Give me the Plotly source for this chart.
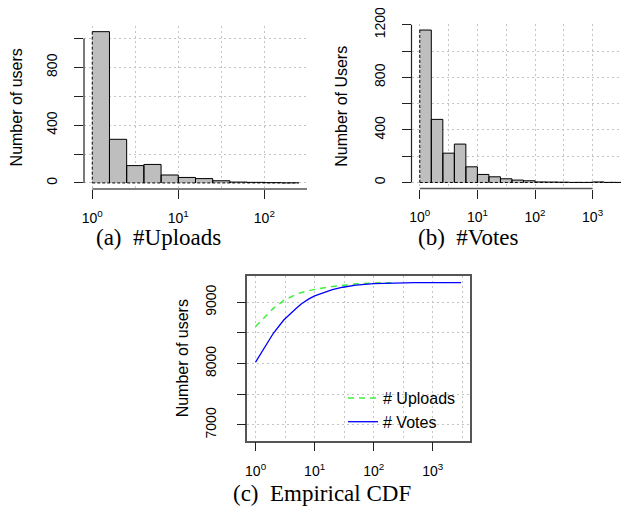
import math
import plotly.graph_objects as go

# ---------------- data ----------------
# histogram bins are 0.2 decades wide, starting at 10^0
bin_step_log = 0.2
uploads_counts = [1047, 302, 120, 128, 55, 38, 30, 15, 6, 4, 2, 1]
votes_counts = [1160, 480, 223, 292, 119, 61, 43, 28, 18, 13, 4, 3, 2, 1, 1, 4, 1, 1]

hist_a_yticks = [0, 200, 400, 600, 800, 1000]
hist_a_ylabels = ["0", "", "400", "", "800", ""]
hist_b_yticks = [0, 200, 400, 600, 800, 1000, 1200]
hist_b_ylabels = ["0", "", "400", "", "800", "", "1200"]

cdf_upload_x = [1, 2, 3, 4, 5, 6, 7, 8, 9, 10, 20, 30, 50, 100, 200]
cdf_upload_y = [8604, 8900, 9030, 9095, 9135, 9160, 9178, 9192, 9202, 9210, 9258, 9280, 9300, 9315, 9320]
cdf_votes_x = [1, 2, 3, 4, 5, 6, 7, 8, 10, 15, 20, 30, 50, 100, 200, 500, 1000, 3000]
cdf_votes_y = [8025, 8495, 8710, 8830, 8910, 8975, 9020, 9055, 9105, 9170, 9205, 9245, 9280, 9305, 9315, 9319, 9320, 9320]
cdf_yticks = [7000, 7500, 8000, 8500, 9000]
cdf_ylabels = ["7000", "", "8000", "", "9000"]

xt_a = [1, 10, 100]
xt_b = [1, 10, 100, 1000]
xt_c = [1, 10, 100, 1000]

captions = ["(a)  #Uploads", "(b)  #Votes", "(c)  Empirical CDF"]

# ---------------- layout helpers ----------------
PAGE_W, PAGE_H = 629, 512
OFF = 8  # browser body margin
W, H = PAGE_W - OFF, PAGE_H - OFF
SANS = "Liberation Sans, Arial, Helvetica, sans-serif"
SERIF = "Liberation Serif, Times New Roman, serif"
GRID = "#c4c4c4"
GRIDDASH = "2px,3px"


def fx(px):
    return (px - OFF) / W


def fy(py):
    return 1 - (py - OFF) / H


def sup_label(v):
    return "10<sup>%d</sup>" % round(math.log10(v))


def half_decades(lo, hi):
    out = []
    k = lo
    while k <= hi + 1e-9:
        out.append(10 ** k)
        k += 0.5
    return out


def bar_edges(i):
    return 10 ** (bin_step_log * i), 10 ** (bin_step_log * (i + 1))


def hist_fill(counts):
    xs, ys = [], []
    for i, c in enumerate(counts):
        lo, hi = bar_edges(i)
        xs += [lo, lo, hi, hi, lo, None]
        ys += [0, c, c, 0, 0, None]
    return xs, ys


def hist_outline(counts):
    xs, ys = [], []
    for i, c in enumerate(counts):
        lo, hi = bar_edges(i)
        if i == 0:
            xs += [lo, hi, hi, None]
            ys += [c, c, 0, None]
        else:
            xs += [lo, lo, hi, hi, None]
            ys += [0, c, c, 0, None]
    return xs, ys


fig = go.Figure()


def add_hist(counts, xa, ya):
    fx_, fy_ = hist_fill(counts)
    fig.add_trace(go.Scatter(x=fx_, y=fy_, mode="lines", fill="toself", fillcolor="#bebebe",
                             line=dict(color="rgba(0,0,0,0)", width=0), xaxis=xa, yaxis=ya,
                             showlegend=False, hoverinfo="skip"))
    ox, oy = hist_outline(counts)
    fig.add_trace(go.Scatter(x=ox, y=oy, mode="lines", line=dict(color="black", width=1),
                             xaxis=xa, yaxis=ya, showlegend=False, hoverinfo="skip"))
    last = bar_edges(len(counts) - 1)[1]
    fig.add_trace(go.Scatter(x=[1, 1, None, 1, last], y=[counts[0], 0, None, 0, 0],
                             mode="lines", line=dict(color="black", width=1, dash="3px,2px"),
                             xaxis=xa, yaxis=ya, showlegend=False, hoverinfo="skip"))


add_hist(uploads_counts, "x", "y")
add_hist(votes_counts, "x2", "y2")

# ---- (c) CDF ----
fig.add_trace(go.Scatter(x=cdf_upload_x, y=cdf_upload_y, mode="lines", name="# Uploads",
                         line=dict(color="#3cf03c", width=1.5, dash="6px,5px"),
                         xaxis="x3", yaxis="y3"))
fig.add_trace(go.Scatter(x=cdf_votes_x, y=cdf_votes_y, mode="lines", name="# Votes",
                         line=dict(color="#0000ff", width=1.3),
                         xaxis="x3", yaxis="y3"))

tickfont = dict(family=SANS, size=14, color="black")
titlefont = dict(family=SANS, size=16, color="black")


def xaxis_cfg(domain, rng, ticks_v, anchor, grid_lo, grid_hi, box=False):
    return dict(type="log", domain=domain, range=rng, anchor=anchor,
                tickmode="array", tickvals=ticks_v, ticktext=[sup_label(v) for v in ticks_v],
                ticks="outside", ticklen=9, tickwidth=1, tickcolor="#222",
                tickfont=tickfont, ticklabelstandoff=8 if box else 7,
                ticklabeloverflow="allow",
                showgrid=True, gridcolor=GRID, griddash=GRIDDASH, gridwidth=1,
                minor=dict(tickvals=half_decades(grid_lo, grid_hi), showgrid=True,
                           gridcolor=GRID, griddash=GRIDDASH, gridwidth=1, ticks=""),
                zeroline=False, showline=box, mirror=box, linecolor="#555", linewidth=1.5)


def yaxis_cfg(domain, rng, tv, tt, anchor, title, standoff, label_gap, box=False):
    return dict(domain=domain, range=rng, anchor=anchor,
                tickmode="array", tickvals=tv, ticktext=tt, tickangle=-90,
                ticks="outside", ticklen=9, tickwidth=1, tickcolor="#222",
                tickfont=tickfont, ticklabelstandoff=label_gap, ticklabeloverflow="allow",
                showgrid=True, gridcolor=GRID, griddash=GRIDDASH, gridwidth=1,
                zeroline=False, showline=box, mirror=box, linecolor="#555", linewidth=1.5,
                title=dict(text=title, font=titlefont, standoff=standoff))


fig.update_layout(
    width=W, height=H, margin=dict(l=0, r=0, t=0, b=0, autoexpand=False),
    paper_bgcolor="white", plot_bgcolor="white",
    xaxis=xaxis_cfg([fx(84), fx(307)], [-0.096, 2.496], xt_a, "y", 0.5, 2.5),
    yaxis=yaxis_cfg([fy(189), fy(25.6)], [-42, 1089], hist_a_yticks, hist_a_ylabels, "x",
                    "Number of users", 20, 11),
    xaxis2=xaxis_cfg([fx(411.5), 1.0], [-0.144, 3.632], xt_b, "y2", 0.5, 3.5),
    yaxis2=yaxis_cfg([fy(188.5), fy(24)], [-46, 1206], hist_b_yticks, hist_b_ylabels, "x2",
                     "Number of Users", 20, 11),
    xaxis3=xaxis_cfg([fx(247.3), fx(470)], [-0.14, 3.63], xt_c, "y3", 0.5, 3.5, box=True),
    yaxis3=yaxis_cfg([fy(440.7), fy(275.7)], [6744, 9433], cdf_yticks, cdf_ylabels, "x3",
                     "Number of users", 10, 15, box=True),
    legend=dict(x=fx(343), y=fy(381), xanchor="left", yanchor="top",
                bgcolor="rgba(0,0,0,0)", borderwidth=0,
                font=dict(family=SANS, size=16, color="black"),
                tracegroupgap=0, itemwidth=30),
    showlegend=True,
)

# R-style axis lines (spanning first to last tick) for (a) and (b)
shapes = []
panels = [
    ("x", 84, 189, xt_a, hist_a_yticks, 10 ** 2.496),
    ("x2", 411.5, 188.5, xt_b, hist_b_yticks, xt_b[-1]),
]
for xr, left_px, bottom_px, xt, yt, x_end in panels:
    yr = "y" if xr == "x" else "y2"
    shapes.append(dict(type="line", xref="paper", yref=yr, x0=fx(left_px), x1=fx(left_px),
                       y0=yt[0], y1=yt[-1], line=dict(color="#222", width=1.2)))
    shapes.append(dict(type="line", xref=xr, yref="paper", y0=fy(bottom_px), y1=fy(bottom_px),
                       x0=xt[0], x1=x_end, line=dict(color="#555", width=1.5)))
fig.update_layout(shapes=shapes)

# captions
cap_pos = [(158, 238), (468, 238), (322, 493)]
for text, (cx, cy) in zip(captions, cap_pos):
    fig.add_annotation(text=text, x=fx(cx), y=fy(cy), xref="paper", yref="paper",
                       showarrow=False, xanchor="center", yanchor="middle",
                       font=dict(family=SERIF, size=23, color="black"))

fig.write_html("out.html")
